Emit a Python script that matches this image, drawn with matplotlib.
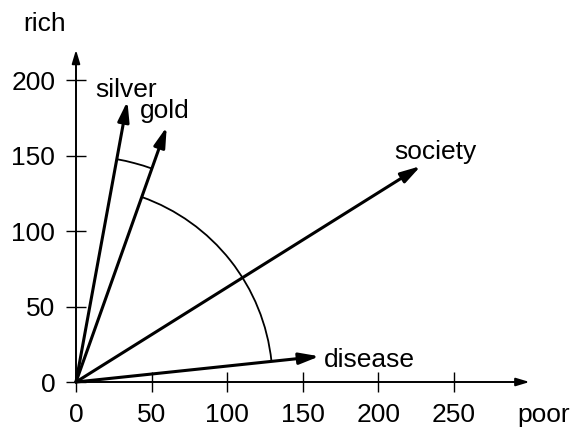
import numpy as np
import matplotlib.pyplot as plt
from matplotlib.patches import FancyArrowPatch, Arc

plt.rcParams['font.family'] = ['Liberation Sans', 'DejaVu Sans']
plt.rcParams['font.size'] = 19

# vector tips (poor, rich)
names = ['silver', 'gold', 'society', 'disease']
vx = [34, 60, 228, 161]
vy = [186, 169, 143, 17]
# label positions
lx = [33, 59, 238, 164]
ly = [189, 175, 148, 10]
lha = ['center', 'center', 'center', 'left']

xticks = [0, 50, 100, 150, 200, 250]
yticks = [0, 50, 100, 150, 200]
xmax, ymax = 300, 220

fig = plt.figure(figsize=(5.77, 4.28), dpi=100)
ax = fig.add_axes([76/577, 46/428, 453.6/577, 332.2/428])
ax.set_xlim(0, xmax)
ax.set_ylim(0, ymax)
for s in ax.spines.values():
    s.set_visible(False)
ax.set_xticks(xticks)
ax.set_yticks(yticks)
ax.tick_params(direction='inout', length=14, width=1.0, pad=8)

# axes with arrows
for end in [(xmax, 0), (0, ymax)]:
    ax.add_patch(FancyArrowPatch((0, 0), end, arrowstyle='-|>,head_length=0.4,head_width=0.12',
                                 mutation_scale=20, lw=1.4, color='black', shrinkA=0, shrinkB=0,
                                 clip_on=False))

# vectors
for i in range(len(names)):
    ax.add_patch(FancyArrowPatch((0, 0), (vx[i], vy[i]), arrowstyle='-|>,head_length=0.6,head_width=0.17',
                                 mutation_scale=20, lw=2.2, color='black', shrinkA=0, shrinkB=0,
                                 clip_on=False, zorder=3))
    ax.text(lx[i], ly[i], names[i], ha=lha[i], va='baseline')

ang = np.degrees(np.arctan2(vy, vx))
ax.add_patch(Arc((0, 0), 260, 260, theta1=ang[3], theta2=ang[1], lw=1.3, color='black'))
ax.add_patch(Arc((0, 0), 300, 300, theta1=ang[1], theta2=ang[0], lw=1.3, color='black'))

ax.text(-20.5, 232.5, 'rich', ha='center', va='baseline')
ax.text(309, -26.3, 'poor', ha='center', va='baseline')

plt.savefig('out.png', dpi=100)
